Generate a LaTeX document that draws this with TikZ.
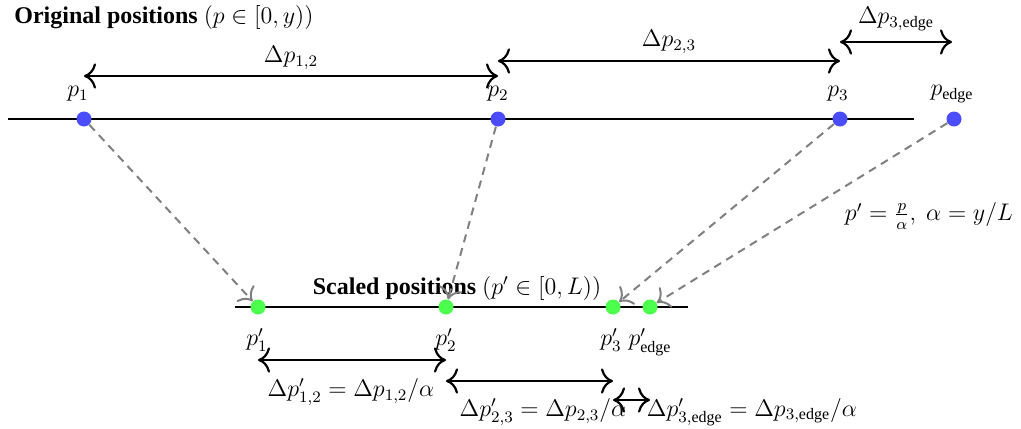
\documentclass[tikz,border=0pt]{standalone}
\usepackage{amsmath}
\usepackage[no-math]{fontspec}
\setmainfont{Liberation Serif}
\usetikzlibrary{arrows.meta}
\begin{document}
\begin{tikzpicture}[x=0.5pt,y=-0.5pt,
  every node/.style={font=\large},
  bdot/.style={circle,fill=blue!70,minimum size=7.5pt,inner sep=0pt},
  gdot/.style={circle,fill=green!70,minimum size=7.5pt,inner sep=0pt},
  axis/.style={line width=1.1pt,black},
  span/.style={line width=1.1pt,{To[scale=1.5]}-{To[scale=1.5]}},
  mapping/.style={line width=1pt,gray,dash pattern=on 4pt off 3pt,-{To[scale=1.5]}},
  lbl/.style={inner sep=1pt}]
\useasboundingbox (0,0) rectangle (1021,428);
% top axis
\coordinate (tl) at (8,119);
\coordinate (tr) at (914,119);
\draw[axis] (tl) -- (tr);
\node[bdot] (o1) at (84,119) {};
\node[bdot] (o2) at (498,119) {};
\node[bdot] (o3) at (840,119) {};
\node[bdot] (oe) at (954,119) {};
\node[lbl] (lo1) at (78,94) {$p_1$};
\node[lbl] (lo2) at (498,94) {$p_2$};
\node[lbl] (lo3) at (838,94) {$p_3$};
\node[lbl] (loe) at (952,94) {$p_{\text{edge}}$};
\node[lbl,anchor=west] (title1) at (12,18) {\textbf{Original positions} $(p\in[0,y))$};
% top spans
\coordinate (a1) at (84,76); \coordinate (a2) at (498,76);
\draw[span] (a1) -- (a2);
\node[lbl] (d12) at (291,58) {$\Delta p_{1,2}$};
\coordinate (b1) at (498,61); \coordinate (b2) at (840,61);
\draw[span] (b1) -- (b2);
\node[lbl] (d23) at (669,42) {$\Delta p_{2,3}$};
\coordinate (c1) at (840,42); \coordinate (c2) at (952,42);
\draw[span] (c1) -- (c2);
\node[lbl] (d3e) at (896,19) {$\Delta p_{3,\text{edge}}$};
% bottom axis
\coordinate (bl) at (235,307);
\coordinate (br) at (688,307);
\draw[axis] (bl) -- (br);
\node[gdot] (s1) at (258,307) {};
\node[gdot] (s2) at (446,307) {};
\node[gdot] (s3) at (613,307) {};
\node[gdot] (se) at (650,307) {};
\node[lbl] (ls1) at (257,340) {$p'_1$};
\node[lbl] (ls2) at (446,340) {$p'_2$};
\node[lbl] (ls3) at (611,340) {$p'_3$};
\node[lbl] (lse) at (650,342) {$p'_{\text{edge}}$};
\node[lbl] (title2) at (457,288) {\textbf{Scaled positions} $(p'\in[0,L))$};
% bottom spans
\coordinate (e1) at (258,360); \coordinate (e2) at (446,360);
\draw[span] (e1) -- (e2);
\node[lbl] (ds12) at (351,392) {$\Delta p'_{1,2}=\Delta p_{1,2}/\alpha$};
\coordinate (f1) at (446,381); \coordinate (f2) at (613,381);
\draw[span] (f1) -- (f2);
\node[lbl] (ds23) at (543,412) {$\Delta p'_{2,3}=\Delta p_{2,3}/\alpha$};
\coordinate (g1) at (613,400); \coordinate (g2) at (650,400);
\draw[span] (g1) -- (g2);
\node[lbl] (ds3e) at (752,412) {$\Delta p'_{3,\text{edge}}=\Delta p_{3,\text{edge}}/\alpha$};
% mappings
\draw[mapping] (o1) -- (s1);
\draw[mapping] (o2) -- (s2);
\draw[mapping] (o3) -- (s3);
\draw[mapping] (oe) -- (se);
\node[lbl] (formula) at (929,216) {$p'=\frac{p}{\alpha},\ \alpha=y/L$};
\end{tikzpicture}
\end{document}
